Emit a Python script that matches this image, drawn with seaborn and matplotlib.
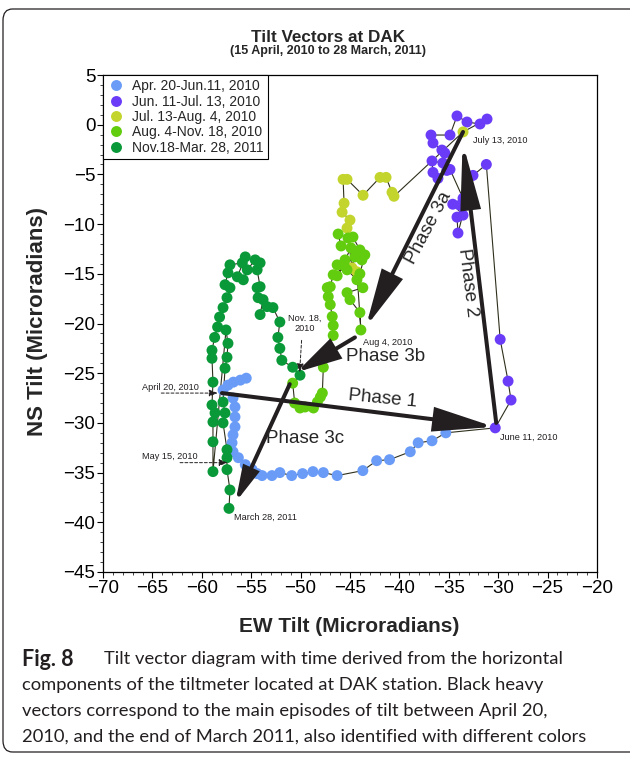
import numpy as np
import pandas as pd
import matplotlib
matplotlib.use("Agg")
import matplotlib.pyplot as plt
import seaborn as sns
from matplotlib.patches import FancyBboxPatch

# ---- tilt data (microradians), in time order for each period ----
periods = ["Apr. 20-Jun.11, 2010", "Jun. 11-Jul. 13, 2010", "Jul. 13-Aug. 4, 2010",
           "Aug. 4-Nov. 18, 2010", "Nov.18-Mar. 28, 2011"]
colors = ["#6a9cf7", "#6a3cf8", "#c3d52c", "#62cc0f", "#0a9939"]

blue_x = [-55.5, -56.1, -56.8, -57.35, -57.85, -56.84, -56.64, -56.64, -56.64, -56.84,
          -56.94, -56.84, -56.3, -55.6, -54.9, -54.4, -53.9, -52.9, -52.1, -50.9,
          -49.8, -48.75, -47.7, -46.3, -43.7, -42.3, -41.0, -38.9, -38.1, -36.7, -35.3]
blue_y = [-25.5, -25.7, -25.9, -26.2, -26.7, -27.5, -28.4, -29.4, -30.4, -31.2,
          -32.0, -32.9, -33.5, -34.2, -34.7, -35.1, -35.3, -35.3, -35.0, -35.3,
          -35.1, -34.9, -35.0, -35.3, -34.8, -33.8, -33.7, -32.9, -32.0, -31.8, -31.0]

purple_x = [-30.3, -28.7, -29.0, -29.8, -31.2, -32.55, -34.07, -34.17, -33.56, -34.6,
            -33.87, -33.56, -34.88, -35.2, -36.1, -36.6, -36.7, -35.6, -35.7, -35.4,
            -36.6, -36.8, -34.88, -34.17, -33.16, -31.84, -31.13]
purple_y = [-30.5, -27.7, -25.8, -21.6, -4.0, -5.1, -10.9, -9.3, -9.1, -8.0,
            -8.1, -7.4, -4.5, -4.6, -5.4, -4.8, -3.65, -3.85, -2.55, -2.85,
            -1.84, -1.04, -1.04, 0.88, 0.27, 0.07, 0.57]

yellow_x = [-33.56, -40.55, -40.75, -41.35, -41.96, -43.68, -45.3, -45.7, -45.6, -45.8,
            -45.0, -45.3, -44.8, -44.3]
yellow_y = [-0.73, -7.2, -6.8, -5.3, -5.3, -7.1, -5.5, -5.5, -7.9, -8.8,
            -9.6, -10.4, -14.4, -14.8]

lime_x = [-43.9, -44.0, -45.0, -45.3, -43.7, -44.3, -45.3, -46.3, -45.5, -43.8,
          -44.5, -44.0, -44.7, -45.2, -46.2, -45.9, -44.9, -46.3, -45.6, -44.0,
          -43.5, -46.7, -47.0, -47.3, -47.2, -47.0, -46.8, -46.7, -46.7, -47.7,
          -47.8, -48.0, -48.3, -48.7, -49.55, -50.06, -50.6, -50.8]
lime_y = [-20.65, -18.9, -17.6, -16.9, -16.4, -15.6, -14.6, -14.1, -13.6, -13.6,
          -13.3, -12.6, -11.3, -11.4, -11.0, -12.2, -12.4, -15.2, -14.2, -15.0,
          -13.1, -15.1, -16.3, -16.4, -17.3, -18.1, -19.3, -20.2, -21.2, -24.4,
          -27.0, -27.4, -27.9, -28.5, -28.4, -28.5, -28.0, -26.0]

green_x = [-50.06, -50.8, -51.9, -52.1, -52.3, -52.1, -52.8, -53.4, -54.1, -53.8,
           -54.3, -54.4, -54.1, -54.4, -54.1, -54.6, -55.4, -55.8, -56.4, -55.6,
           -55.9, -57.15, -57.35, -57.65, -57.15, -57.45, -57.85, -58.2, -58.4, -58.7,
           -58.97, -58.97, -58.87, -58.97, -58.66, -58.87, -58.87, -58.87, -57.55, -57.35,
           -57.45, -57.65, -57.85, -57.65, -57.85, -57.45, -57.45, -57.45, -57.15, -57.25]
green_y = [-25.2, -24.4, -23.7, -22.5, -21.4, -19.85, -18.4, -18.3, -19.1, -17.6,
           -17.4, -16.4, -16.3, -14.6, -13.9, -13.6, -14.6, -15.6, -15.3, -13.3,
           -13.9, -14.1, -14.9, -16.1, -16.4, -17.4, -18.4, -19.35, -20.35, -21.4,
           -22.7, -23.5, -25.9, -28.2, -29.0, -29.9, -31.9, -34.9, -20.65, -22.0,
           -23.4, -24.5, -27.9, -29.0, -30.0, -32.7, -33.5, -34.7, -36.75, -38.6]

# main tilt episodes: (start, end) of each heavy vector
phase_start = {"1": (-57.96, -27.0), "2": (-30.2, -30.0), "3a": (-33.56, -0.73),
               "3b": (-44.5, -21.4), "3c": (-51.1, -26.1)}
phase_end = {"1": (-30.4, -30.4), "2": (-33.6, -1.8), "3a": (-43.4, -20.35),
             "3b": (-50.4, -24.9), "3c": (-56.6, -38.0)}

xs = [blue_x, purple_x, yellow_x, lime_x, green_x]
ys = [blue_y, purple_y, yellow_y, lime_y, green_y]
frames = []
for name, px, py in zip(periods, xs, ys):
    frames.append(pd.DataFrame({"EW": px, "NS": py, "period": name}))
df = pd.concat(frames, ignore_index=True)

# ---- figure ----
W, H = 630, 757
sns.set_style("ticks")
plt.rcParams["font.family"] = ["Liberation Sans", "DejaVu Sans"]
fig = plt.figure(figsize=(W / 100, H / 100), dpi=100)

def fx(px):
    return px / W

def fy(py):
    return 1 - py / H

ax = fig.add_axes([fx(103), fy(572), (597 - 103) / W, (572 - 75) / H])

# the continuous tilt path
sns.lineplot(data=df, x="EW", y="NS", sort=False, estimator=None, color="#2f2f1c",
             lw=0.8, ax=ax, zorder=2, legend=False)
sns.scatterplot(data=df, x="EW", y="NS", hue="period", palette=colors, s=62,
                edgecolor="none", linewidth=0, ax=ax, zorder=3, alpha=1)

ax.set_xlim(-70, -20)
ax.set_ylim(-45, 5)
ax.set_xticks(np.arange(-70, -19, 5))
ax.set_yticks(np.arange(-45, 6, 5))
ax.set_xticks(np.arange(-70, -19, 1), minor=True)
ax.set_yticks(np.arange(-45, 6, 1), minor=True)
ax.set_xticklabels([f"\u2212{abs(v)}" for v in range(-70, -19, 5)])
ax.set_yticklabels([f"\u2212{abs(v)}" if v < 0 else str(v) for v in range(-45, 6, 5)])
ax.tick_params(which="major", direction="out", length=4, width=0.8, labelsize=13.5,
               colors="black", pad=1.5)
ax.tick_params(which="minor", direction="out", length=2, width=0.6)
for s in ax.spines.values():
    s.set_color("black")
    s.set_linewidth(0.9)
ax.set_xlabel("")
ax.set_ylabel("")

leg = ax.legend(loc="upper left", bbox_to_anchor=(0, 1), borderaxespad=0,
                fontsize=10, frameon=True, fancybox=False, framealpha=1,
                edgecolor="black", handletextpad=0.6, labelspacing=0.1,
                borderpad=0.3, handlelength=1.2, markerscale=1.0)
leg.get_frame().set_linewidth(0.8)

# heavy vectors
arrow_dims = {"1": (3.6, 0.72), "2": (3.8, 0.58), "3a": (3.4, 0.68), "3b": (2.6, 0.66),
              "3c": (2.0, 0.48)}
for key in phase_start:
    hl, hw = arrow_dims[key]
    ax.annotate("", xy=phase_end[key], xytext=phase_start[key],
                arrowprops=dict(arrowstyle=f"-|>,head_length={hl},head_width={hw}",
                                lw=2.9, color="#231f20", shrinkA=0, shrinkB=0,
                                mutation_scale=10, joinstyle="miter"), zorder=5)

phase_fs = 13.5
ax.text(-41.7, -27.6, "Phase 1", fontsize=phase_fs, rotation=-5.5, ha="center",
        va="center", zorder=6)
ax.text(-33.05, -15.9, "Phase 2", fontsize=phase_fs, rotation=-83, ha="center",
        va="center", zorder=6)
ax.text(-37.0, -10.4, "Phase 3a", fontsize=phase_fs, rotation=62, ha="center",
        va="center", zorder=6)
ax.text(-41.4, -23.3, "Phase 3b", fontsize=phase_fs, ha="center", va="center", zorder=6)
ax.text(-49.55, -31.6, "Phase 3c", fontsize=phase_fs, ha="center", va="center", zorder=6)

# date annotations
small = dict(fontsize=6.6, color="#231f20", family=["Liberation Sans Narrow", "Liberation Sans"])
ax.text(-32.55, -1.6, "July 13, 2010", ha="left", va="center", **small)
ax.text(-29.8, -31.4, "June 11, 2010", ha="left", va="center", **small)
ax.text(-43.7, -21.9, "Aug 4, 2010", ha="left", va="center", **small)
ax.text(-49.6, -20.0, "Nov. 18,\n2010", ha="center", va="center", linespacing=1.1, **small)
ax.text(-53.6, -39.5, "March 28, 2011", ha="center", va="center", **small)
ax.text(-63.2, -26.4, "April 20, 2010", ha="center", va="center", **small)
ax.text(-63.2, -33.4, "May 15, 2010", ha="center", va="center", **small)

dash = dict(arrowstyle="-|>,head_length=0.5,head_width=0.2", lw=0.7, color="#231f20",
            linestyle=(0, (3, 2)), shrinkA=0, shrinkB=0, mutation_scale=10)
ax.annotate("", xy=(-58.4, -27.0), xytext=(-64.1, -27.0), arrowprops=dash, zorder=6)
ax.annotate("", xy=(-57.4, -34.0), xytext=(-62.2, -34.0), arrowprops=dash, zorder=6)
ax.annotate("", xy=(-50.1, -24.9), xytext=(-49.9, -21.7), arrowprops=dash, zorder=6)

# titles and axis labels
fig.text(fx(328), fy(38), "Tilt Vectors at DAK", ha="center", va="center",
         fontsize=12.3, fontweight="bold")
fig.text(fx(328), fy(51), "(15 April, 2010 to 28 March, 2011)", ha="center",
         va="center", fontsize=9, fontweight="bold")
fig.text(fx(349), fy(626), "EW Tilt (Microradians)", ha="center", va="center",
         fontsize=15, fontweight="bold")
fig.text(fx(38), fy(322), "NS Tilt (Microradians)", ha="center", va="center",
         fontsize=16, fontweight="bold", rotation=90)

# caption
cap = dict(fontsize=13.2, color="#231f20", family=["Lato", "DejaVu Sans"], va="center")
fig.text(fx(22), fy(659), "Fig. 8", fontweight="bold", fontsize=15.5,
         color="#231f20", family=["Lato", "DejaVu Sans"], va="center")
fig.text(fx(104), fy(659), "Tilt vector diagram with time derived from the horizontal", **cap)
fig.text(fx(22), fy(685), "components of the tiltmeter located at DAK station. Black heavy", **cap)
fig.text(fx(22), fy(711), "vectors correspond to the main episodes of tilt between April 20,", **cap)
fig.text(fx(22), fy(737), "2010, and the end of March 2011, also identified with different colors", **cap)

# panel frame
frame = FancyBboxPatch((fx(3), fy(752)), fx(700) - fx(3), fy(9) - fy(752),
                       boxstyle="round,pad=0,rounding_size=0.015",
                       transform=fig.transFigure, fill=False, ec="#231f20", lw=0.9)
fig.patches.append(frame)

fig.savefig("out.png", dpi=100)
